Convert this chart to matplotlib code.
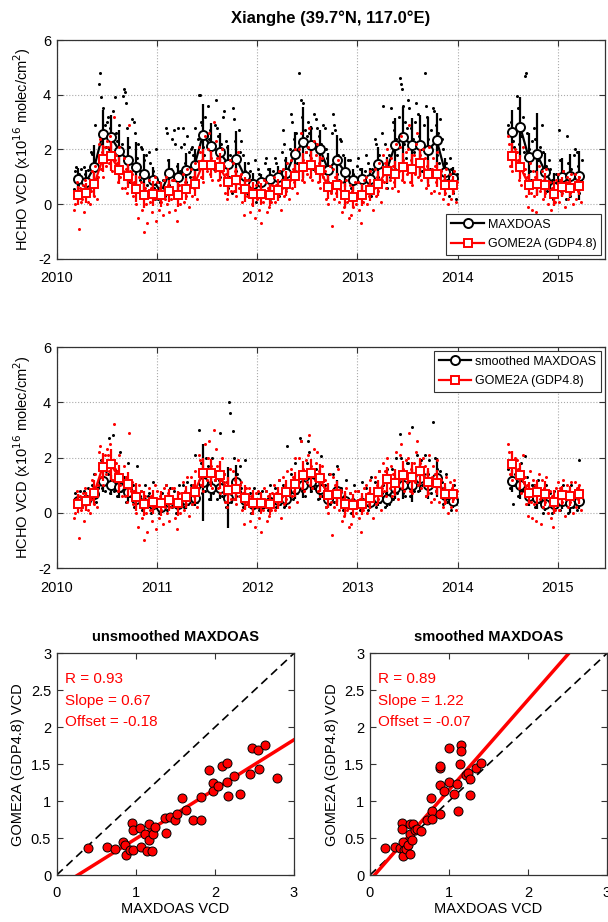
import numpy as np
import pandas as pd
import matplotlib
matplotlib.use('Agg')
import matplotlib.pyplot as plt
from matplotlib.lines import Line2D

plt.rcParams['font.family'] = ['Liberation Sans', 'DejaVu Sans']
plt.rcParams['axes.unicode_minus'] = False

# months with data (gap in the first half of 2014)
blocks = [('2010-03', '2013-12'), ('2014-07', '2015-03')]

# monthly means, x1e16 molec/cm2
maxdoas_mean = [0.91, 0.81, 1.36, 2.55, 2.45, 1.96, 1.60, 1.36, 1.12, 0.87,
                0.45, 1.15, 1.00, 1.26, 1.42, 2.53, 2.11, 1.90, 1.48, 1.66, 1.03, 0.73,
                0.81, 0.93, 0.99, 1.14, 1.84, 2.27, 2.15, 2.02, 1.26, 1.62, 1.18, 0.87,
                0.93, 0.93, 1.48, 1.24, 2.15, 2.45, 2.15, 2.15, 1.98, 2.33, 1.18, 0.96,
                2.63, 2.81, 1.72, 1.82, 1.18, 0.63,
                0.99, 1.03, 1.05]
maxdoas_std = [0.4, 0.45, 0.8, 0.9, 0.8, 0.75, 0.85, 0.9, 0.7, 0.5,
               0.3, 0.5, 0.5, 0.6, 0.6, 1.15, 0.85, 0.7, 0.7, 1.0, 0.5, 0.4,
               0.3, 0.4, 0.4, 0.6, 0.8, 1.3, 0.7, 0.7, 0.6, 0.9, 0.55, 0.4,
               0.4, 0.4, 0.6, 0.5, 1.0, 1.1, 1.0, 1.1, 1.2, 1.0, 0.5, 0.4,
               0.8, 1.1, 0.9, 1.5, 0.7, 0.5,
               0.7, 0.8, 0.9]

smooth_mean = [0.42, 0.45, 0.68, 1.15, 1.00, 0.95, 0.75, 0.50, 0.35, 0.30,
               0.20, 0.38, 0.30, 0.45, 0.55, 1.10, 0.88, 0.88, 0.55, 1.13, 0.45, 0.30,
               0.30, 0.40, 0.45, 0.50, 0.85, 1.00, 1.13, 0.85, 0.50, 0.80, 0.42, 0.30,
               0.35, 0.40, 0.55, 0.50, 0.88, 1.00, 1.00, 1.25, 1.00, 1.27, 0.63, 0.42,
               1.15, 1.00, 0.60, 0.55, 0.30, 0.30,
               0.42, 0.34, 0.42]
smooth_std = [0.25, 0.25, 0.3, 0.4, 0.35, 0.4, 0.35, 0.3, 0.25, 0.25,
              0.2, 0.25, 0.25, 0.3, 0.3, 1.4, 0.45, 0.4, 1.1, 0.6, 0.3, 0.25,
              0.2, 0.25, 0.25, 0.3, 0.35, 0.45, 0.4, 0.4, 0.3, 0.4, 0.3, 0.2,
              0.25, 0.25, 0.3, 0.3, 0.4, 0.5, 0.6, 0.5, 0.5, 0.7, 0.3, 0.25,
              0.4, 0.5, 0.35, 0.4, 0.25, 0.25,
              0.3, 0.35, 0.3]

gome_mean = [0.33, 0.41, 0.73, 1.66, 1.75, 1.24, 1.03, 0.57, 0.33, 0.39,
             0.35, 0.47, 0.35, 0.57, 0.75, 1.45, 1.45, 1.36, 0.81, 0.87, 0.55, 0.36,
             0.36, 0.33, 0.53, 0.75, 1.03, 1.36, 1.45, 1.26, 0.63, 0.69, 0.33, 0.27,
             0.33, 0.53, 0.75, 1.21, 1.09, 1.36, 1.30, 1.50, 1.12, 1.09, 0.69, 0.69,
             1.78, 1.36, 0.72, 0.75, 0.69, 0.39,
             0.63, 0.61, 0.67]
gome_std = [0.35, 0.35, 0.45, 0.5, 0.55, 0.5, 0.45, 0.5, 0.45, 0.45,
            0.45, 0.4, 0.45, 0.4, 0.45, 0.55, 0.5, 0.5, 0.5, 0.45, 0.45, 0.45,
            0.4, 0.4, 0.4, 0.45, 0.45, 0.5, 0.5, 0.5, 0.45, 0.45, 0.45, 0.4,
            0.4, 0.4, 0.45, 0.45, 0.5, 0.5, 0.55, 0.5, 0.5, 0.45, 0.4, 0.35,
            0.45, 0.45, 0.4, 0.45, 0.45, 0.45,
            0.35, 0.35, 0.35]

# daily values, one list per month
maxdoas_daily = [
    [0.55, 1.2, 1.35, 0.7, 1.1, 0.4, 1.3], [0.5, 1.35, 1.1, 0.3, 0.9, 1.25, 0.6],
    [1.9, 1.85, 0.9, 1.6, 2.9, 1.0, 1.3], [4.4, 4.8, 3.9, 2.2, 3.5, 1.8, 2.9, 2.1],
    [3.0, 3.2, 2.0, 2.8, 1.7, 3.4, 2.4, 3.9], [2.6, 2.3, 1.5, 2.9, 1.2, 2.2, 3.95],
    [4.2, 4.1, 3.7, 2.8, 1.0, 2.1, 0.8, 1.5], [3.1, 3.0, 2.6, 0.6, 1.7, 2.2, 0.9],
    [2.1, 2.0, 0.5, 1.6, 1.8, 0.7, 0.3], [1.9, 1.5, 0.4, 1.2, 0.6, 0.2, 2.0],
    [0.2, 0.8, 0.1, 0.5, 0.9, 0.3], [2.8, 2.6, 1.6, 0.7, 1.3, 2.4, 0.9],
    [2.7, 2.2, 1.4, 2.8, 0.5, 1.2, 2.1], [2.8, 2.2, 1.5, 0.8, 2.5, 1.9, 1.0],
    [2.0, 2.1, 1.8, 2.8, 0.9, 1.3, 2.4], [4.0, 4.0, 3.0, 2.9, 2.1, 1.8, 3.2, 2.5],
    [3.6, 2.4, 2.7, 1.5, 2.0, 1.3, 2.9], [3.8, 2.8, 2.5, 1.0, 2.2, 1.5, 3.2],
    [3.4, 2.3, 2.1, 0.6, 1.0, 1.8, 0.4], [3.5, 3.1, 2.3, 1.2, 0.8, 2.7, 1.9],
    [2.3, 1.8, 0.6, 1.2, 0.4, 1.5], [1.2, 0.9, 0.3, 0.6, 1.6, 0.1],
    [1.3, 1.1, 0.3, 0.8, 0.5, 1.5], [1.7, 1.3, 0.5, 0.2, 0.9, 1.2],
    [1.7, 1.5, 0.6, 0.3, 1.2, 1.9], [2.7, 2.2, 1.6, 0.6, 1.3, 0.8, 2.0],
    [3.3, 3.0, 2.4, 1.2, 2.6, 1.5, 1.9], [4.8, 3.8, 3.2, 3.7, 1.5, 2.7, 1.9, 2.5],
    [3.0, 2.6, 1.8, 2.8, 1.3, 3.3, 2.2], [3.1, 2.8, 2.5, 1.2, 2.2, 1.6, 2.9],
    [2.8, 2.0, 1.7, 0.8, 1.4, 0.5, 2.6], [3.3, 2.9, 2.7, 1.1, 1.8, 0.9, 2.4],
    [2.3, 1.8, 0.8, 1.3, 0.5, 1.6], [1.6, 0.6, 1.1, 0.3, 0.9, 1.4],
    [1.7, 1.3, 0.5, 0.4, 1.0, 1.2], [1.8, 1.5, 0.6, 0.3, 1.3, 0.8],
    [2.4, 2.2, 1.0, 1.8, 0.7, 2.6], [3.6, 2.2, 1.5, 0.6, 1.8, 1.0],
    [3.5, 3.0, 2.7, 1.3, 2.4, 1.8, 3.2], [4.6, 4.4, 4.2, 3.6, 2.2, 3.0, 1.7, 2.8],
    [3.8, 3.5, 2.8, 1.4, 2.4, 1.9, 3.0], [3.7, 3.3, 2.5, 1.6, 2.0, 1.2, 2.9],
    [4.8, 3.6, 3.2, 2.4, 1.3, 2.7, 1.0], [3.5, 3.4, 2.9, 1.8, 2.6, 1.5, 3.1],
    [2.4, 2.0, 0.6, 1.5, 0.9, 0.3], [1.7, 1.3, 0.4, 0.8, 0.2, 1.1],
    [2.9, 2.7, 3.0, 2.3, 2.1, 2.6], [3.95, 3.5, 2.2, 2.9, 2.5, 3.2, 1.9],
    [4.7, 4.8, 2.6, 2.0, 1.2, 0.9, 2.3], [2.8, 2.4, 1.2, 1.6, 0.7, 2.1],
    [2.9, 1.9, 0.8, 1.4, 0.5, 1.6], [1.3, 0.9, 0.2, 0.5, 1.1, 0.3],
    [2.7, 1.6, 0.5, 1.2, 0.8, 0.2], [2.5, 1.5, 0.3, 1.3, 0.7, 1.8],
    [2.0, 1.9, 1.4, 0.4, 0.9, 1.6],
]

smooth_daily = [
    [0.2, 0.7, 0.5, 0.3, 0.8, 0.4], [0.2, 0.8, 0.6, 0.3, 0.9, 0.5],
    [0.5, 1.0, 1.4, 0.8, 0.4, 0.9], [1.6, 1.9, 0.9, 1.3, 0.8, 1.5],
    [1.4, 2.7, 0.7, 1.2, 2.8, 0.8], [1.5, 0.6, 1.2, 2.2, 0.8, 1.1],
    [1.3, 0.4, 1.0, 1.8, 0.6, 0.9], [1.0, 0.2, 0.7, 1.7, 0.4, 0.6],
    [0.8, 0.1, 0.5, 1.0, 0.3, 0.6], [0.7, 0.0, 0.5, 1.1, 0.2, 0.4],
    [0.5, 0.0, 0.3, 0.7, 0.1, 0.4], [1.0, 0.1, 0.6, 0.9, 0.2, 0.5],
    [0.8, 0.0, 0.5, 1.0, 0.2, 0.4], [1.0, 0.2, 0.7, 1.1, 0.3, 0.6],
    [1.0, 0.3, 0.8, 2.1, 0.4, 0.7], [3.0, 1.8, 0.7, 1.3, 0.8, 2.0],
    [1.7, 0.5, 1.1, 2.0, 0.7, 1.2], [1.5, 0.5, 1.2, 2.9, 0.6, 1.1],
    [1.4, 0.2, 0.9, 4.0, 3.6, 0.4], [2.95, 2.0, 0.6, 1.4, 0.8, 1.7],
    [0.9, 0.2, 0.7, 1.9, 0.3, 0.6], [0.7, 0.0, 0.5, 0.9, 0.2, 0.4],
    [0.7, 0.1, 0.5, 0.8, 0.2, 0.4], [0.8, 0.1, 0.6, 1.0, 0.3, 0.5],
    [0.9, 0.2, 0.7, 1.2, 0.3, 0.6], [1.0, 0.2, 0.7, 2.4, 0.4, 0.6],
    [1.4, 0.5, 1.1, 1.8, 0.7, 1.0], [2.7, 2.6, 0.8, 1.4, 0.6, 1.8],
    [2.6, 2.2, 0.8, 1.5, 0.9, 1.3], [1.6, 0.5, 1.1, 2.05, 0.6, 1.0],
    [1.0, 0.2, 0.7, 1.4, 0.3, 0.6], [1.4, 0.4, 1.0, 1.7, 0.6, 0.9],
    [0.9, 0.1, 0.6, 1.2, 0.3, 0.5], [0.7, 0.0, 0.5, 1.0, 0.2, 0.4],
    [0.8, 0.1, 0.5, 1.1, 0.2, 0.4], [0.9, 0.1, 0.6, 1.3, 0.3, 0.5],
    [1.1, 0.2, 0.8, 1.5, 0.4, 0.7], [1.0, 0.2, 0.7, 1.6, 0.3, 0.6],
    [1.6, 0.5, 1.2, 2.0, 0.7, 1.0], [2.85, 2.0, 0.7, 1.4, 0.6, 1.8],
    [1.8, 0.6, 1.3, 3.1, 0.8, 1.2], [2.1, 0.8, 1.6, 1.9, 1.0, 1.4],
    [2.1, 0.6, 1.4, 1.9, 0.7, 1.2], [3.3, 2.0, 0.8, 1.6, 1.0, 1.5],
    [1.1, 0.3, 0.9, 1.4, 0.4, 0.7], [0.8, 0.1, 0.6, 1.0, 0.3, 0.5],
    [1.6, 0.9, 1.3, 0.3, 1.0, 1.4], [1.5, 0.6, 1.2, 1.8, 0.8, 1.1],
    [2.05, 1.3, 0.3, 0.8, 0.5, 1.0], [1.0, 0.2, 0.8, 1.2, 0.4, 0.6],
    [0.7, 0.0, 0.5, 1.0, 0.2, 0.4], [0.7, 0.0, 0.5, 0.8, 0.2, 0.4],
    [0.8, 0.1, 0.6, 1.0, 0.3, 0.5], [0.7, 0.0, 0.5, 1.0, 0.2, 0.4],
    [0.8, 0.1, 0.6, 1.9, 0.3, 0.5],
]

gome_daily = [
    [-0.2, 0.0, 0.5, 0.8, 0.3, -0.9, 0.6, 0.1], [0.2, 0.7, -0.3, 0.9, 0.4, 0.1, 0.6, 0.0],
    [0.5, 1.2, 0.9, 0.3, 1.4, 0.7, 0.2, 1.0], [2.2, 2.4, 1.3, 1.9, 1.0, 1.7, 2.1, 1.4],
    [2.3, 2.1, 1.5, 2.5, 1.2, 1.9, 3.2, 1.6], [1.8, 1.5, 0.8, 2.1, 1.0, 1.4, 0.6, 1.2],
    [1.7, 0.6, 1.3, 0.4, 0.9, 2.9, 1.2, 0.8], [1.1, 0.3, 0.8, 0.0, 0.6, -0.5, 1.0, 0.4],
    [0.8, -0.2, 0.4, -1.0, 0.6, 0.0, -0.7, 0.3], [0.9, 0.1, 0.6, -0.3, 0.5, 0.2, 1.0, -0.6],
    [0.8, -0.2, 0.6, 0.1, 0.4, -0.4, 0.9, 0.2], [1.0, 0.0, 0.7, -0.3, 0.5, 0.2, 0.9, 0.4],
    [0.9, -0.2, 0.5, -0.6, 0.3, 0.7, 0.0, 0.4], [1.1, 0.1, 0.8, 0.3, 1.3, 0.5, -0.1, 0.7],
    [1.3, 0.3, 1.0, 0.6, 1.5, 0.8, 0.2, 0.9], [2.1, 1.9, 1.0, 1.6, 0.8, 1.4, 2.5, 1.2],
    [2.0, 2.6, 1.1, 1.7, 0.9, 1.4, 3.0, 1.2], [2.3, 1.7, 0.9, 1.5, 0.7, 1.2, 2.0, 1.4],
    [1.4, 0.4, 1.1, 0.2, 0.8, 1.6, 0.5, 0.9], [1.5, 0.5, 1.2, 0.3, 0.9, 1.9, 0.6, 1.0],
    [1.1, 0.1, 0.7, -0.4, 0.5, 0.9, 0.3, 0.6], [0.9, -0.3, 0.6, 0.0, 0.4, -0.5, 0.7, 0.2],
    [0.8, -0.2, 0.5, -0.7, 0.3, 0.1, 0.9, 0.4], [0.8, -0.3, 0.6, -0.1, 0.3, 0.1, 0.7, 0.4],
    [1.0, 0.1, 0.7, 0.3, 1.2, 0.5, -0.2, 0.6], [1.3, 0.3, 1.0, 0.5, 1.5, 0.8, 0.2, 0.9],
    [1.6, 0.6, 1.3, 0.8, 2.0, 1.1, 0.4, 1.2], [2.0, 2.6, 0.9, 1.6, 0.8, 1.3, 1.9, 1.1],
    [2.1, 2.8, 1.0, 1.7, 0.9, 1.5, 2.3, 1.2], [1.8, 2.2, 0.8, 1.5, 0.6, 1.2, 1.7, 1.0],
    [1.2, 0.2, 0.9, 0.0, 0.6, 1.4, 0.4, -0.8], [1.3, 0.2, 1.0, 0.4, 0.7, 1.6, 0.1, 0.8],
    [0.8, -0.3, 0.5, -0.1, 0.3, 0.9, 0.1, -0.5], [0.7, -0.4, 0.5, -0.1, 0.2, 0.8, 0.0, 0.4],
    [0.8, -0.2, 0.5, -0.7, 0.3, 0.1, 0.9, 0.4], [1.0, 0.0, 0.7, 0.3, 1.2, 0.5, -0.2, 0.6],
    [1.3, 0.3, 1.0, 0.5, 1.5, 0.8, 0.1, 0.9], [1.8, 0.8, 1.5, 0.6, 2.0, 1.1, 1.3, 0.9],
    [1.7, 0.6, 1.4, 0.8, 2.2, 1.1, 0.5, 1.2], [2.1, 2.5, 0.9, 1.6, 0.8, 1.3, 1.9, 1.1],
    [2.0, 2.9, 0.8, 1.6, 0.7, 1.2, 1.8, 1.1], [2.2, 2.6, 1.0, 1.8, 0.9, 1.4, 2.0, 1.2],
    [1.7, 0.6, 1.4, 0.7, 2.1, 1.0, 0.4, 1.3], [1.7, 0.5, 1.4, 0.8, 1.9, 1.0, 0.4, 1.2],
    [1.2, 0.2, 0.9, 0.4, 1.3, 0.7, 0.0, 0.8], [1.1, 0.2, 0.9, 0.5, 1.2, 0.6, 0.1, 0.8],
    [2.5, 2.2, 1.4, 1.9, 1.2, 1.7, 2.0, 1.5], [1.9, 1.6, 0.9, 1.5, 0.7, 1.3, 2.1, 1.1],
    [1.3, 0.3, 1.0, -0.1, 0.7, 1.5, 0.4, -0.2], [1.2, 0.3, 1.0, -0.3, 0.7, 1.4, 0.5, -0.4],
    [1.2, 0.2, 0.9, 0.4, 1.3, 0.7, 0.0, 0.8], [0.8, -0.2, 0.6, -0.5, 0.4, 0.1, 0.9, 0.3],
    [1.1, 0.1, 0.9, 0.4, 1.2, 0.6, -0.1, 0.8], [1.0, 0.2, 0.8, 0.4, 1.1, 0.6, 0.0, 0.7],
    [1.1, 0.2, 0.9, 0.5, 1.0, 0.6, 0.1, 0.8],
]

# scatter of monthly means (MAXDOAS vs GOME2A)
unsm_x = [0.39, 0.63, 0.74, 0.84, 0.86, 0.88, 0.93, 0.95, 0.97, 0.97, 1.05, 1.07, 1.12, 1.14,
          1.17, 1.17, 1.20, 1.22, 1.24, 1.37, 1.38, 1.43, 1.50, 1.52, 1.59, 1.64, 1.72, 1.82,
          1.83, 1.92, 1.97, 1.97, 2.04, 2.09, 2.15, 2.15, 2.16, 2.24, 2.32, 2.45, 2.47, 2.55,
          2.56, 2.63, 2.78]
unsm_y = [0.36, 0.38, 0.35, 0.44, 0.40, 0.27, 0.34, 0.70, 0.61, 0.34, 0.63, 0.38, 0.56, 0.32,
          0.47, 0.69, 0.32, 0.56, 0.65, 0.77, 0.57, 0.78, 0.74, 0.82, 1.04, 0.88, 0.74, 0.75,
          1.05, 1.42, 1.24, 1.13, 1.21, 1.47, 1.51, 1.26, 1.07, 1.34, 1.09, 1.36, 1.72, 1.69,
          1.44, 1.76, 1.31]
sm_x = [0.19, 0.32, 0.38, 0.41, 0.41, 0.42, 0.43, 0.42, 0.46, 0.48, 0.51, 0.51, 0.50, 0.53,
        0.55, 0.57, 0.59, 0.64, 0.72, 0.77, 0.78, 0.79, 0.88, 0.88, 0.88, 0.89, 0.94, 1.00,
        1.00, 1.06, 1.10, 1.11, 1.15, 1.15, 1.14, 1.22, 1.24, 1.26, 1.26, 1.34, 1.40]
sm_y = [0.36, 0.38, 0.36, 0.70, 0.62, 0.45, 0.34, 0.26, 0.35, 0.41, 0.56, 0.29, 0.69, 0.48,
        0.69, 0.61, 0.62, 0.59, 0.74, 1.04, 0.87, 0.76, 1.22, 1.45, 1.47, 0.83, 1.13, 1.72,
        1.26, 1.10, 1.23, 0.87, 1.76, 1.68, 1.50, 1.35, 1.38, 1.30, 1.08, 1.45, 1.52]

fit_r = [0.93, 0.89]
fit_slope = [0.67, 1.22]
fit_offset = [-0.18, -0.07]

# ---------------------------------------------------------------
periods = [pd.period_range(a, b, freq='M') for a, b in blocks]
t_start = np.concatenate([[p.year + (p.month - 1) / 12 for p in pr] for pr in periods])
t_mid = t_start + 0.5 / 12
n0 = len(periods[0])
segs = [slice(0, n0), slice(n0, len(t_start))]

W, H = 608, 922
fig = plt.figure(figsize=(W / 100, H / 100), dpi=100)


def box(x0, y0, x1, y1):
    return [x0 / W, 1 - y1 / H, (x1 - x0) / W, (y1 - y0) / H]


def style(ax, xpad):
    for s in ax.spines.values():
        s.set_color('#333333')
        s.set_linewidth(0.9)
    ax.tick_params(direction='in', top=True, right=True, length=4, width=0.8,
                   labelsize=10.5, color='#333333', pad=4)
    ax.tick_params(axis='x', pad=xpad)


def series(ax, daily, mean, std, color, marker, ms):
    for i, vals in enumerate(daily):
        n = len(vals)
        xs = t_start[i] + (np.arange(n) + 0.5) / n / 12
        ax.plot(xs, vals, 'o', color=color, ms=2.2, mew=0)
    mean = np.array(mean)
    std = np.array(std)
    ax.vlines(t_mid, mean - std, mean + std, color=color, lw=1.6)
    for sl in segs:
        ax.plot(t_mid[sl], mean[sl], color=color, lw=1.6, marker=marker, ms=ms,
                mfc='white', mec=color, mew=1.4)


def timeseries(ax, bdaily, bmean, bstd, blabel, legloc):
    series(ax, bdaily, bmean, bstd, 'black', 'o', 6.5)
    series(ax, gome_daily, gome_mean, gome_std, 'red', 's', 5.5)
    ax.set_xlim(2010, 2015.47)
    ax.set_ylim(-2, 6)
    ax.set_xticks(range(2010, 2016))
    ax.set_yticks([-2, 0, 2, 4, 6])
    ax.grid(True, linestyle=':', color='#aaaaaa', lw=0.8)
    ax.set_ylabel('HCHO VCD (x10$^{16}$ molec/cm$^2$)', fontsize=10.5, labelpad=4)
    style(ax, 9)
    handles = [Line2D([], [], color='black', lw=1.6, marker='o', ms=6.5, mfc='white', mew=1.4),
               Line2D([], [], color='red', lw=1.6, marker='s', ms=5.5, mfc='white', mew=1.4)]
    leg = ax.legend(handles, [blabel, 'GOME2A (GDP4.8)'], loc=legloc, fontsize=9,
                    fancybox=False, edgecolor='#333333', framealpha=1, handlelength=2.6,
                    borderaxespad=0.3, labelspacing=0.6, handletextpad=0.3)
    leg.get_frame().set_linewidth(0.8)


ax1 = fig.add_axes(box(56.7, 40, 605, 259))
timeseries(ax1, maxdoas_daily, maxdoas_mean, maxdoas_std, 'MAXDOAS', 'lower right')
ax2 = fig.add_axes(box(56.7, 347, 605, 568))
timeseries(ax2, smooth_daily, smooth_mean, smooth_std, 'smoothed MAXDOAS', 'upper right')

fig.text(331 / W, 1 - 18 / H, 'Xianghe (39.7°N, 117.0°E)', ha='center', va='center',
         fontsize=12, fontweight='bold')

scat = [(box(56.7, 653.3, 294, 875), unsm_x, unsm_y, 'unsmoothed MAXDOAS'),
        (box(370, 653.3, 607, 875), sm_x, sm_y, 'smoothed MAXDOAS')]
for k, (pos, xs, ys, title) in enumerate(scat):
    ax = fig.add_axes(pos)
    ax.plot([0, 3], [0, 3], '--', color='black', lw=1.2, dashes=(5, 3))
    lx = np.array([0, 3])
    ax.plot(lx, fit_slope[k] * lx + fit_offset[k], color='red', lw=2.5)
    ax.plot(xs, ys, 'o', ms=6.5, mfc='red', mec='black', mew=0.7)
    ax.set_xlim(0, 3)
    ax.set_ylim(0, 3)
    ax.set_xticks([0, 1, 2, 3])
    ax.set_yticks([0, 0.5, 1, 1.5, 2, 2.5, 3])
    ax.set_yticklabels(['0', '0.5', '1', '1.5', '2', '2.5', '3'])
    ax.set_xlabel('MAXDOAS VCD', fontsize=10.5, labelpad=1)
    ax.set_ylabel('GOME2A (GDP4.8) VCD', fontsize=10.5, labelpad=4)
    ax.set_title(title, fontsize=10.5, fontweight='bold', pad=9)
    for j, txt in enumerate(['R = %.2f' % fit_r[k], 'Slope = %.2f' % fit_slope[k],
                             'Offset = %.2f' % fit_offset[k]]):
        ax.text(0.1, 2.65 - 0.29 * j, txt, color='red', fontsize=11, va='center')
    style(ax, 8)

fig.savefig('out.png', dpi=100)
